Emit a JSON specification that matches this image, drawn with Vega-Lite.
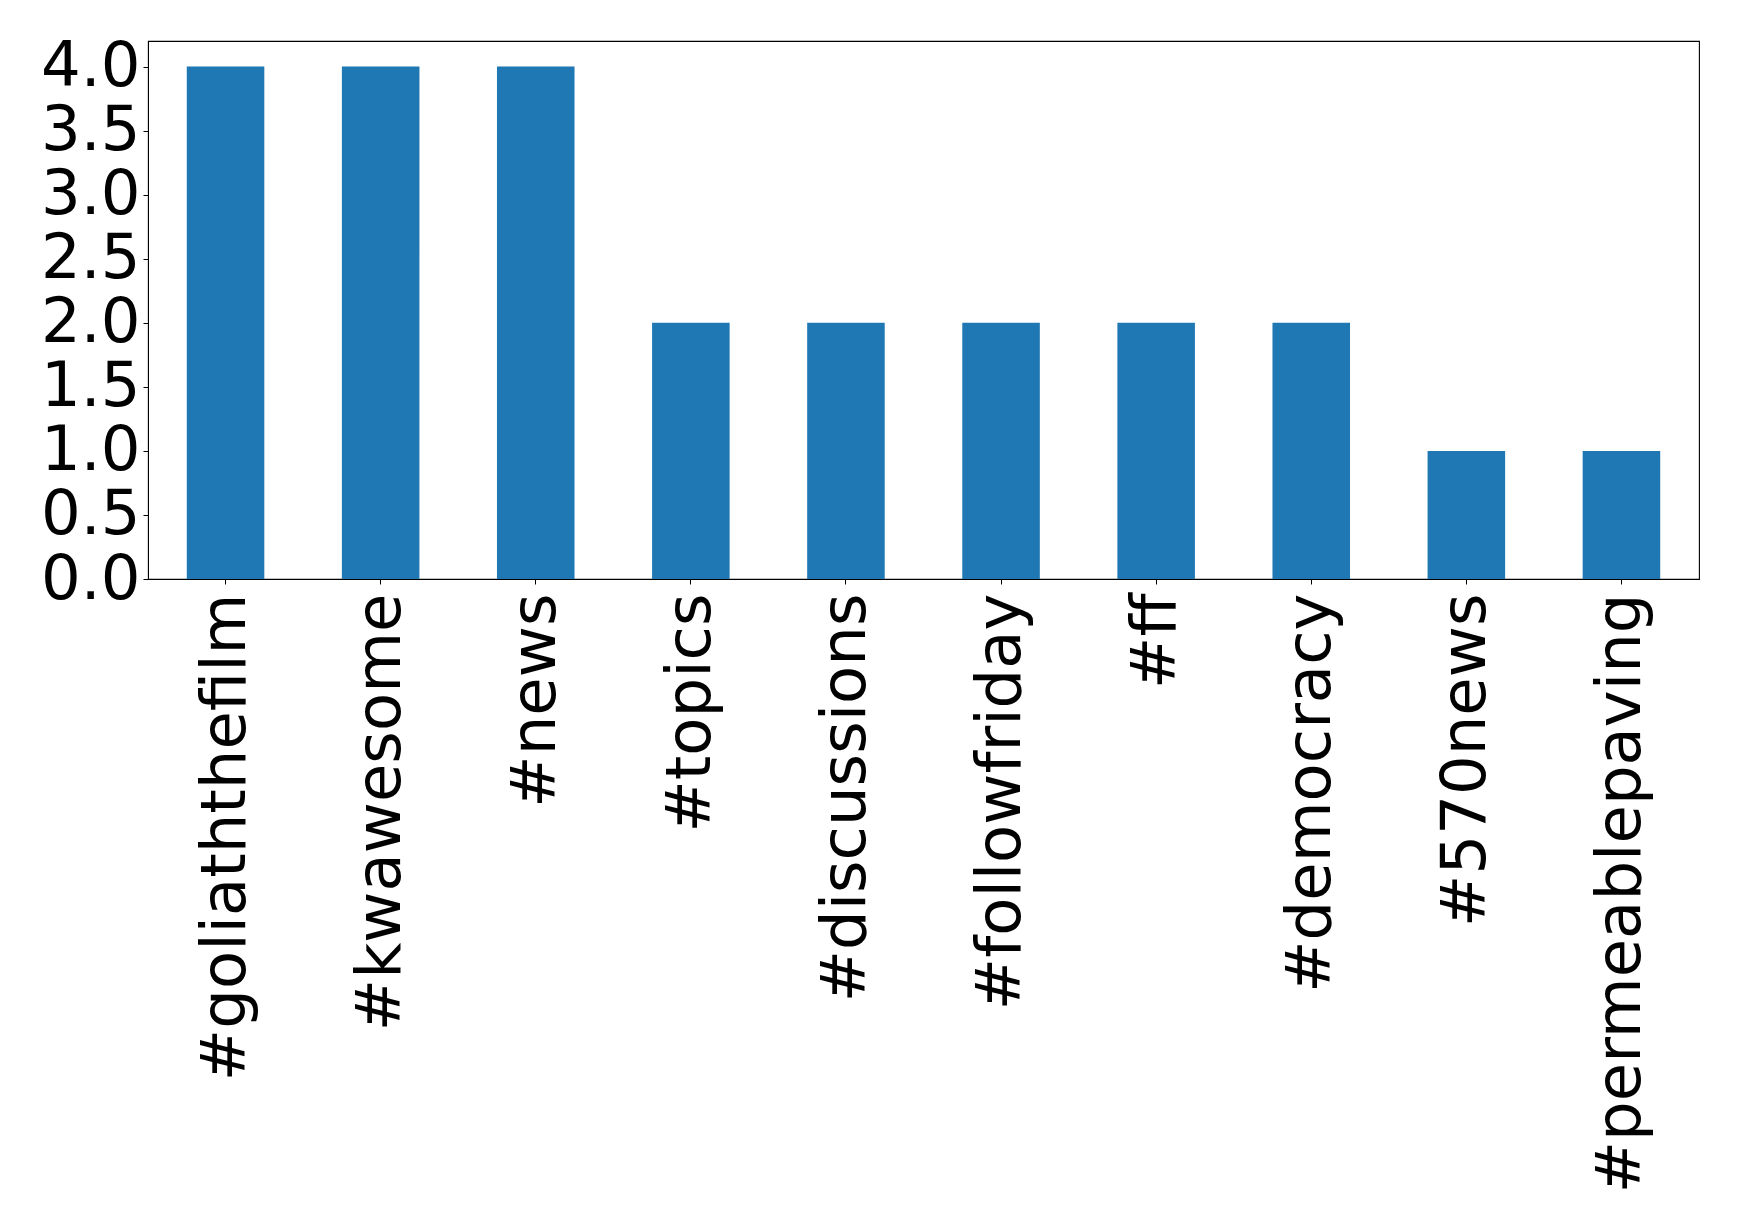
{
  "$schema": "https://vega.github.io/schema/vega-lite/v6.json",
  "width": 1551,
  "height": 538,
  "autosize": {"type": "none"},
  "padding": {"left": 148, "top": 41, "right": 40, "bottom": 649},
  "background": "white",
  "config": {
    "view": {"stroke": "black", "strokeWidth": 1.1},
    "axis": {
      "labelFont": "DejaVu Sans",
      "labelFontSize": 62.5,
      "labelColor": "black",
      "tickColor": "black",
      "domainColor": "black",
      "tickSize": 5,
      "labelPadding": 3,
      "labelLimit": 0,
      "labelOverlap": false,
      "grid": false,
      "title": null
    }
  },
  "data": {
    "values": [
      {"tag": "#goliaththefilm", "count": 4},
      {"tag": "#kwawesome", "count": 4},
      {"tag": "#news", "count": 4},
      {"tag": "#topics", "count": 2},
      {"tag": "#discussions", "count": 2},
      {"tag": "#followfriday", "count": 2},
      {"tag": "#ff", "count": 2},
      {"tag": "#democracy", "count": 2},
      {"tag": "#570news", "count": 1},
      {"tag": "#permeablepaving", "count": 1}
    ]
  },
  "mark": {"type": "bar", "color": "#1f77b4"},
  "encoding": {
    "x": {
      "field": "tag",
      "type": "nominal",
      "sort": null,
      "scale": {"paddingInner": 0.5, "paddingOuter": 0.25},
      "axis": {"labelAngle": -90, "labelAlign": "right", "labelBaseline": "middle", "labelPadding": 9}
    },
    "y": {
      "field": "count",
      "type": "quantitative",
      "scale": {"domain": [0, 4.2], "nice": false},
      "axis": {"values": [0, 0.5, 1, 1.5, 2, 2.5, 3, 3.5, 4], "format": ".1f"}
    }
  }
}
